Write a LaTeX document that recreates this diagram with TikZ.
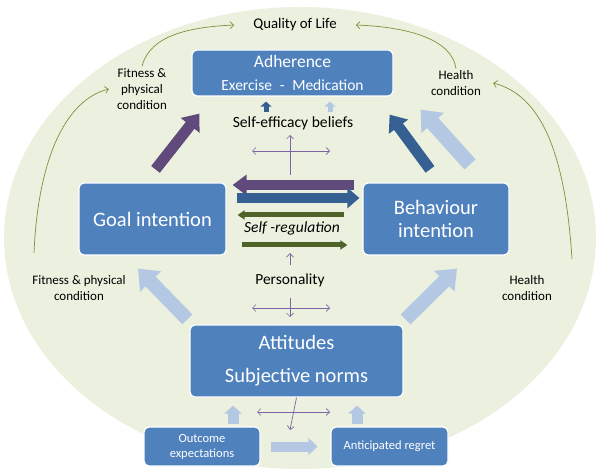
\documentclass[tikz,border=0pt]{standalone}
\usepackage{fontspec}
\setmainfont{Carlito}
\usepackage{tikz}
\usetikzlibrary{arrows.meta,calc}

\definecolor{boxblue}{HTML}{4F81BD}
\definecolor{ovalgreen}{HTML}{EBF1DE}
\definecolor{purp}{HTML}{604A7B}
\definecolor{darkblue}{HTML}{376092}
\definecolor{lightblue}{HTML}{B4C7E3}
\definecolor{darkgreen}{HTML}{4F6228}
\definecolor{curvegreen}{HTML}{77933C}
\definecolor{crossline}{HTML}{7B66A3}

\begin{document}
\begin{tikzpicture}[x=1pt, y=-1pt,
  box/.style={shape=rectangle, rounded corners=5pt, draw=white, line width=1.2pt, fill=boxblue, text=white, align=center},
  txt/.style={align=center, inner sep=2pt},
  fat/.style={line width=#1},
  cross/.style={crossline, line width=0.7pt, >={Straight Barb[length=3.5pt,width=7pt]}},
  curve/.style={curvegreen, line width=0.7pt, -{Straight Barb[length=3.5pt,width=7pt]}}
]
  \useasboundingbox (0,0) rectangle (600,470);
  % Background oval
  \fill[ovalgreen] (300,238) ellipse [x radius=296, y radius=231];

  % Boxes
  \node[box, minimum width=201pt, minimum height=46pt, font=\fontsize{15.5}{19}\selectfont] (adh) at (292.5,73) {{\fontsize{17.5}{19}\selectfont Adherence}\\[4pt]Exercise\enspace-\enspace Medication};
  \node[box, minimum width=147pt, minimum height=72pt, font=\fontsize{20.5}{24}\selectfont] (goal) at (152.5,219) {Goal intention};
  \node[box, minimum width=146pt, minimum height=72pt, font=\fontsize{20.5}{23}\selectfont] (beh) at (436,219) {Behaviour\\intention};
  \node[box, minimum width=213pt, minimum height=72pt, font=\fontsize{20.5}{24}\selectfont] (att) at (296.5,361) {Attitudes\\[9pt]Subjective norms};
  \node[box, minimum width=116pt, minimum height=39pt, font=\fontsize{12.5}{15}\selectfont] (outc) at (202,446.5) {Outcome\\expectations};
  \node[box, minimum width=117pt, minimum height=39pt, font=\fontsize{12.5}{15}\selectfont] (regr) at (389.5,446.5) {Anticipated regret};

  % Labels
  \node[txt, font=\fontsize{14.8}{17}\selectfont] (qol) at (295,25) {Quality of Life};
  \node[txt, font=\fontsize{13}{16}\selectfont] (fit) at (142,89) {Fitness \&\\physical\\condition};
  \node[txt, font=\fontsize{13}{15.5}\selectfont] (hea) at (456,83) {Health\\condition};
  \node[txt, font=\fontsize{13}{16}\selectfont] (fitlow) at (79,288) {Fitness \& physical\\condition};
  \node[txt, font=\fontsize{13}{16}\selectfont] (healow) at (527,288) {Health\\condition};
  \node[txt, font=\fontsize{15.6}{18}\selectfont] (seb) at (293,123) {Self-efficacy beliefs};
  \node[txt, font=\fontsize{15.5}{18}\selectfont\itshape] (selfreg) at (292,228) {Self -regulation};
  \node[txt, font=\fontsize{15.4}{18}\selectfont] (pers) at (290,280) {Personality};

  % Quality of life curves
  \coordinate (lstart) at (34,253);
  \coordinate (rstart) at (572,259);
  \draw[curve] (lstart) .. controls (38,160) and (65,100) .. ($(fit.west)+(-6,0)$);
  \draw[curve] (fit.north) .. controls (150,35) and (190,27) .. ($(qol.west)+(-17,0)$);
  \draw[curve] (hea.north) .. controls (452,40) and (410,27) .. ($(qol.east)+(17,0)$);
  \draw[curve] (rstart) .. controls (565,150) and (540,95) .. ($(hea.east)+(10,0)$);

  % Diagonal block arrows
  \draw[fat=11pt, purp, -{Triangle[length=15pt,width=23pt]}] ($(goal.north)+(3,-13)$) -- ($(adh.south west)+(8,17)$);
  \draw[fat=11pt, darkblue, -{Triangle[length=15pt,width=23pt]}] ($(beh.north)+(-6,-13)$) -- ($(adh.south east)+(-4,18)$);
  \draw[fat=15pt, lightblue, -{Triangle[length=18pt,width=29pt]}] ($(beh.north)+(34,-18)$) -- ($(adh.south east)+(27,13)$);
  \draw[fat=14pt, lightblue, -{Triangle[length=18pt,width=28pt]}] ($(att.north west)+(-2,-5)$) -- ($(goal.south)+(-14.5,13)$);
  \draw[fat=14pt, lightblue, -{Triangle[length=18pt,width=28pt]}] ($(att.north east)+(2,-5)$) -- ($(beh.south)+(21,13)$);

  % Horizontal arrows between intentions
  \draw[fat=10pt, purp, -{Triangle[length=14pt,width=20pt]}] ($(beh.west)+(-8,-34)$) -- ($(goal.east)+(6,-34)$);
  \draw[fat=10pt, darkblue, -{Triangle[length=12pt,width=20pt]}] ($(goal.east)+(10,-21)$) -- ($(beh.west)+(-3,-21)$);
  \draw[fat=5pt, darkgreen, -{Triangle[length=7pt,width=9pt]}] ($(beh.west)+(-18,-4)$) -- ($(goal.east)+(11,-4)$);
  \draw[fat=5pt, darkgreen, -{Triangle[length=7pt,width=9pt]}] ($(goal.east)+(15,26)$) -- ($(beh.west)+(-15,26)$);

  % Small arrows
  \draw[fat=5pt, darkblue, -{Triangle[length=5pt,width=11pt]}] ($(adh.south)+(-26.5,15)$) -- ($(adh.south)+(-26.5,5)$);
  \draw[fat=5pt, lightblue, -{Triangle[length=5pt,width=11pt]}] ($(adh.south)+(37.5,15)$) -- ($(adh.south)+(37.5,5)$);
  \draw[fat=11pt, lightblue, -{Triangle[length=8pt,width=17pt]}] ($(att.south)+(-63.5,26)$) -- ($(att.south)+(-63.5,8)$);
  \draw[fat=11pt, lightblue, -{Triangle[length=8pt,width=17pt]}] ($(att.south)+(60.5,26)$) -- ($(att.south)+(60.5,8)$);
  \draw[fat=10pt, lightblue, -{Triangle[length=9pt,width=17pt]}] ($(outc.east)+(10,0)$) -- ($(regr.west)+(-13,0)$);

  % Crosses
  \coordinate (xa) at (290,151);
  \coordinate (xb) at (290,308);
  \coordinate (xc) at (290,412);
  \draw[cross, <->] ($(xa)+(-38,0)$) -- ($(xa)+(40,0)$);
  \draw[cross, ->] ($(xa)+(0,24)$) -- ($(xa)+(0,-16)$);
  \draw[cross, ->] ($(pers.north)+(0,-6)$) -- ($(pers.north)+(0,-18)$);
  \draw[cross, <->] ($(xb)+(-38,0)$) -- ($(xb)+(40,0)$);
  \draw[cross, ->] ($(xb)+(0,-10)$) -- ($(xb)+(0,9)$);
  \draw[cross, <->] ($(xc)+(-33,0)$) -- ($(xc)+(40,0)$);
  \draw[cross, ->] (att.south) -- ($(xc)+(0,18)$);
\end{tikzpicture}
\end{document}
